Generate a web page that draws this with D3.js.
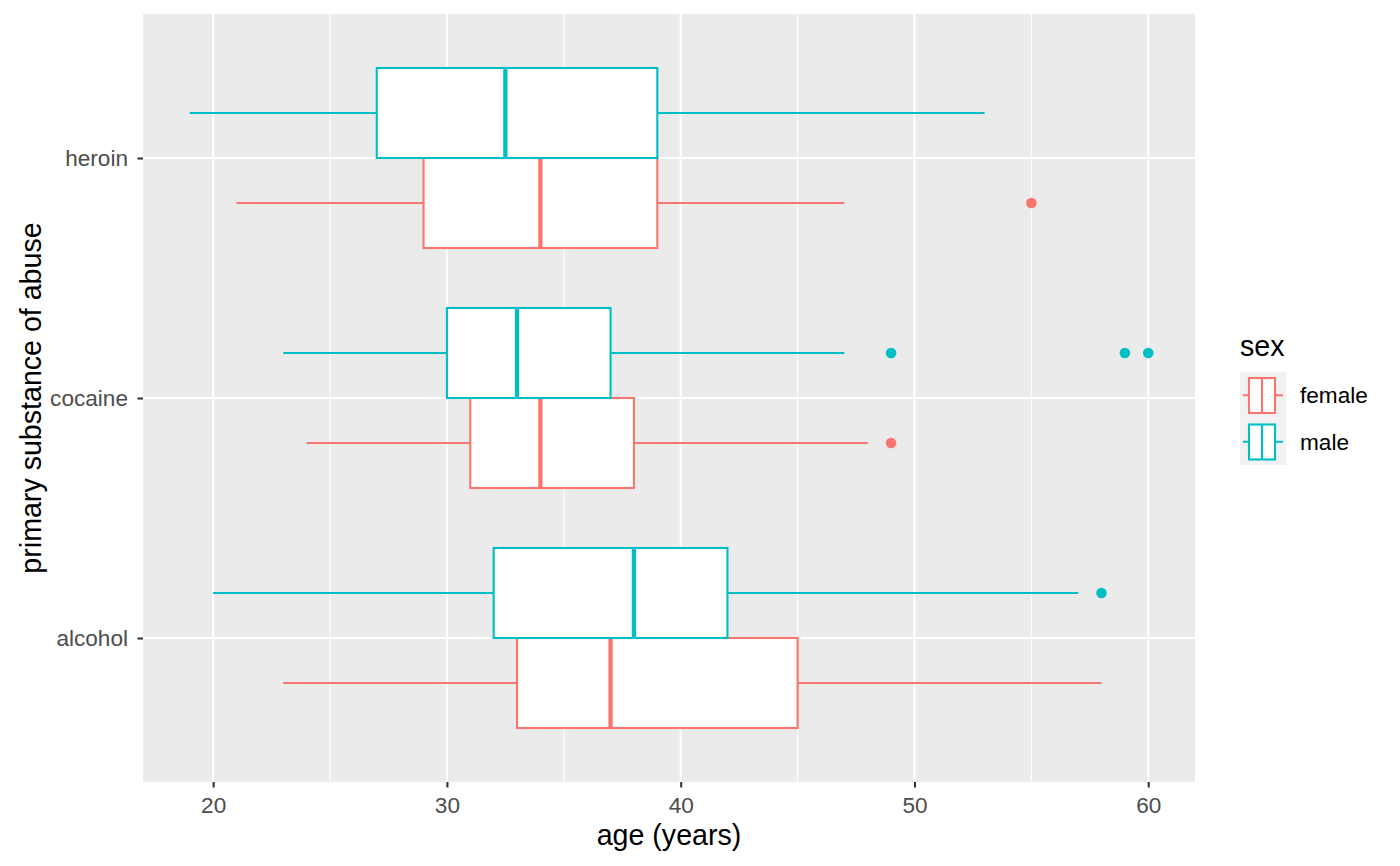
<!DOCTYPE html>
<html>
<head>
<meta charset="utf-8">
<script src="https://cdn.jsdelivr.net/npm/d3@7"></script>
<style>
  body { margin: 0; background: #fff; }
  text { font-family: "Liberation Sans", Arial, sans-serif; }
</style>
</head>
<body>
<div id="chart"></div>
<script>
const substances = ['alcohol', 'cocaine', 'heroin'];
const sexes = ['female', 'male'];
const sexColors = ['#F8766D', '#00BFC4'];
const xTicks = [20, 30, 40, 50, 60];
const xMinor = [25, 35, 45, 55];

// [substance, sex, lowWhisker, q1, median, q3, highWhisker]
const boxStats = [
    ['heroin', 'female', 21, 29, 34, 39, 47],
    ['heroin', 'male', 19, 27, 32.5, 39, 53],
    ['cocaine', 'female', 24, 31, 34, 38, 48],
    ['cocaine', 'male', 23, 30, 33, 37, 47],
    ['alcohol', 'female', 23, 33, 37, 45, 58],
    ['alcohol', 'male', 20, 32, 38, 42, 57]
];
const outliers = [
    ['heroin', 'female', 55],
    ['cocaine', 'female', 49],
    ['cocaine', 'male', 49],
    ['cocaine', 'male', 59],
    ['cocaine', 'male', 60],
    ['alcohol', 'male', 58]
];

const width = 1400, height = 866;
const panel = { left: 143, right: 1195, top: 14, bottom: 782 };
const tickFont = '22.6px', titleFont = '28.6px';

const svg = d3.select('#chart').append('svg')
    .attr('width', width)
    .attr('height', height);

const x = d3.scaleLinear().domain([17, 62]).range([panel.left, panel.right]);
// discrete axis, ggplot expansion of 0.6 units each side
const yPos = d3.scaleLinear().domain([0.4, 3.6]).range([panel.bottom, panel.top]);
const y = d => yPos(substances.indexOf(d) + 1);
const unit = yPos(0) - yPos(1);
const bw = 0.375 * unit; // each dodged box is half of 0.75 units
const color = d3.scaleOrdinal().domain(sexes).range(sexColors);

// panel background + grid
svg.append('rect')
    .attr('x', panel.left).attr('y', panel.top)
    .attr('width', panel.right - panel.left).attr('height', panel.bottom - panel.top)
    .attr('fill', '#EBEBEB');

const grid = svg.append('g');
grid.selectAll('.minor').data(xMinor).enter().append('line')
    .attr('x1', d => x(d)).attr('x2', d => x(d))
    .attr('y1', panel.top).attr('y2', panel.bottom)
    .attr('stroke', '#fff').attr('stroke-width', 1.1);
grid.selectAll('.majorx').data(xTicks).enter().append('line')
    .attr('x1', d => x(d)).attr('x2', d => x(d))
    .attr('y1', panel.top).attr('y2', panel.bottom)
    .attr('stroke', '#fff').attr('stroke-width', 2.1);
grid.selectAll('.majory').data(substances).enter().append('line')
    .attr('x1', panel.left).attr('x2', panel.right)
    .attr('y1', d => y(d)).attr('y2', d => y(d))
    .attr('stroke', '#fff').attr('stroke-width', 2.1);

// boxes: female below the category line, male above (male drawn last)
const boxes = svg.append('g');
boxStats.forEach(([sub, sex, lo, q1, med, q3, hi]) => {
    const y0 = y(sub) + (sex === 'female' ? 0 : -bw);
    const mid = y0 + bw / 2;
    const c = color(sex);
    const g = boxes.append('g');
    g.append('line').attr('x1', x(lo)).attr('x2', x(q1)).attr('y1', mid).attr('y2', mid)
        .attr('stroke', c).attr('stroke-width', 2.1);
    g.append('line').attr('x1', x(q3)).attr('x2', x(hi)).attr('y1', mid).attr('y2', mid)
        .attr('stroke', c).attr('stroke-width', 2.1);
    g.append('rect').attr('x', x(q1)).attr('y', y0)
        .attr('width', x(q3) - x(q1)).attr('height', bw)
        .attr('fill', '#fff').attr('stroke', c).attr('stroke-width', 2.1);
    g.append('line').attr('x1', x(med)).attr('x2', x(med)).attr('y1', y0).attr('y2', y0 + bw)
        .attr('stroke', c).attr('stroke-width', 4.3);
});

svg.append('g').selectAll('circle').data(outliers).enter().append('circle')
    .attr('cx', d => x(d[2]))
    .attr('cy', d => y(d[0]) + (d[1] === 'female' ? 0.5 : -0.5) * bw)
    .attr('r', 5.3)
    .attr('fill', d => color(d[1]));

// axes
const xAxis = svg.append('g').attr('transform', `translate(0,${panel.bottom})`)
    .call(d3.axisBottom(x).tickValues(xTicks).tickSize(5.5).tickPadding(9.5));
const yAxis = svg.append('g').attr('transform', `translate(${panel.left},0)`)
    .call(d3.axisLeft(yPos).tickValues([1, 2, 3]).tickFormat(i => substances[i - 1]).tickSize(5.5).tickPadding(9.5));
[xAxis, yAxis].forEach(a => {
    a.select('.domain').remove();
    a.selectAll('.tick line').attr('stroke', '#333').attr('stroke-width', 2.1);
    a.selectAll('.tick text').attr('fill', '#4D4D4D').style('font-size', tickFont)
        .style('font-family', '"Liberation Sans", Arial, sans-serif');
});

svg.append('text').attr('x', (panel.left + panel.right) / 2).attr('y', 845)
    .attr('text-anchor', 'middle').style('font-size', titleFont).text('age (years)');
svg.append('text').attr('transform', `translate(41,${(panel.top + panel.bottom) / 2}) rotate(-90)`)
    .attr('text-anchor', 'middle').style('font-size', titleFont).text('primary substance of abuse');

// legend
const legend = svg.append('g').attr('transform', 'translate(1240,372)');
legend.append('text').attr('x', 0).attr('y', -16).style('font-size', titleFont).text('sex');
sexes.forEach((s, i) => {
    const k = legend.append('g').attr('transform', `translate(0,${i * 46.5})`);
    const c = color(s);
    k.append('rect').attr('width', 46).attr('height', 46.5).attr('fill', '#F2F2F2');
    k.append('line').attr('x1', 3).attr('x2', 43).attr('y1', 23.25).attr('y2', 23.25)
        .attr('stroke', c).attr('stroke-width', 2.1);
    k.append('rect').attr('x', 9).attr('y', 6).attr('width', 26).attr('height', 35)
        .attr('fill', '#fff').attr('stroke', c).attr('stroke-width', 2.1);
    k.append('line').attr('x1', 22).attr('x2', 22).attr('y1', 6).attr('y2', 41)
        .attr('stroke', c).attr('stroke-width', 2.1);
    k.append('text').attr('x', 60).attr('y', 23.25).attr('dy', '0.35em')
        .style('font-size', tickFont).text(s);
});
</script>
</body>
</html>
